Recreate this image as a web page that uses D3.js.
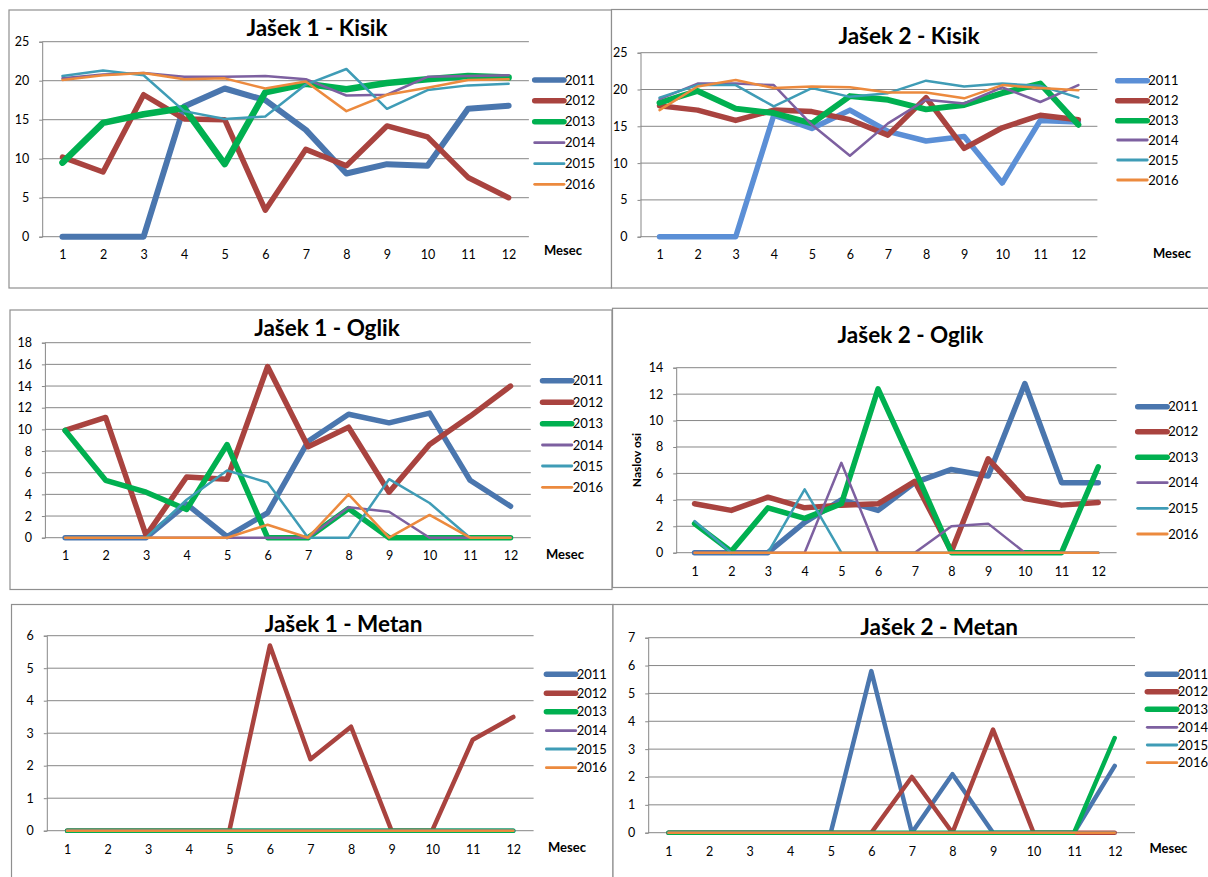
<!DOCTYPE html>
<html>
<head>
<meta charset="utf-8">
<script src="https://cdn.jsdelivr.net/npm/d3@7"></script>
<style>
  html, body { margin: 0; padding: 0; background: #fff; }
  svg { display: block; font-family: Lato, "Open Sans", sans-serif; }
</style>
</head>
<body>
<svg id="chart" width="1208" height="877"></svg>
<script>
// ---------- DATA ----------
const months = [1, 2, 3, 4, 5, 6, 7, 8, 9, 10, 11, 12];
const years = ["2011", "2012", "2013", "2014", "2015", "2016"];

// Jašek 1 - Kisik
const j1Kisik2011 = [0, 0, 0, 16.7, 19.0, 17.5, 13.7, 8.1, 9.3, 9.1, 16.4, 16.8];
const j1Kisik2012 = [10.2, 8.3, 18.2, 15.1, 15.0, 3.4, 11.2, 9.1, 14.2, 12.8, 7.6, 5.0];
const j1Kisik2013 = [9.5, 14.6, 15.7, 16.5, 9.3, 18.5, 19.6, 18.9, 19.7, 20.2, 20.6, 20.4];
const j1Kisik2014 = [20.3, 20.8, 21.0, 20.5, 20.5, 20.6, 20.2, 18.1, 18.2, 20.5, 20.6, 20.7];
const j1Kisik2015 = [20.6, 21.3, 20.7, 16.1, 15.1, 15.4, 19.5, 21.5, 16.4, 18.8, 19.4, 19.6];
const j1Kisik2016 = [20.1, 20.7, 21.0, 20.2, 20.3, 19.0, 19.9, 16.1, 18.2, 19.1, 20.1, 20.2];

// Jašek 2 - Kisik
const j2Kisik2011 = [0, 0, 0, 16.5, 14.7, 17.2, 14.3, 13.0, 13.6, 7.3, 15.8, 15.6];
const j2Kisik2012 = [17.8, 17.2, 15.8, 17.2, 17.0, 15.9, 13.8, 18.9, 12.0, 14.8, 16.5, 15.9];
const j2Kisik2013 = [18.2, 19.8, 17.4, 16.8, 15.4, 19.1, 18.6, 17.3, 17.9, 19.5, 20.8, 15.2];
const j2Kisik2014 = [18.7, 20.8, 20.8, 20.6, 15.2, 11.0, 15.4, 18.6, 18.1, 20.3, 18.3, 20.6];
const j2Kisik2015 = [18.9, 20.6, 20.6, 17.7, 20.2, 19.0, 19.5, 21.2, 20.4, 20.8, 20.5, 18.9];
const j2Kisik2016 = [17.2, 20.4, 21.3, 20.2, 20.4, 20.3, 19.6, 19.6, 18.8, 20.6, 20.2, 19.9];

// Jašek 1 - Oglik
const j1Oglik2011 = [0, 0, 0, 3.1, 0.1, 2.3, 8.9, 11.4, 10.6, 11.5, 5.3, 2.9];
const j1Oglik2012 = [9.9, 11.1, 0.2, 5.6, 5.4, 15.8, 8.4, 10.2, 4.2, 8.6, 11.2, 14.0];
const j1Oglik2013 = [9.9, 5.3, 4.2, 2.6, 8.6, 0, 0, 2.7, 0, 0, 0, 0];
const j1Oglik2014 = [0, 0, 0, 0, 0, 0, 0, 2.8, 2.4, 0, 0, 0];
const j1Oglik2015 = [0, 0, 0, 3.5, 6.2, 5.1, 0, 0, 5.4, 3.2, 0, 0];
const j1Oglik2016 = [0, 0, 0, 0, 0, 1.2, 0, 4.0, 0, 2.1, 0, 0];

// Jašek 2 - Oglik
const j2Oglik2011 = [0, 0, 0, 2.3, 4.0, 3.2, 5.3, 6.3, 5.8, 12.8, 5.3, 5.3];
const j2Oglik2012 = [3.7, 3.2, 4.2, 3.4, 3.6, 3.7, 5.4, 0.1, 7.1, 4.1, 3.6, 3.8];
const j2Oglik2013 = [2.2, 0.1, 3.4, 2.6, 3.7, 12.4, 6.3, 0, 0, 0, 0, 6.5];
const j2Oglik2014 = [0, 0, 0, 0, 6.8, 0, 0, 2.0, 2.2, 0, 0, 0];
const j2Oglik2015 = [2.4, 0, 0, 4.8, 0, 0, 0, 0, 0, 0, 0, 0];
const j2Oglik2016 = [0, 0, 0, 0, 0, 0, 0, 0, 0, 0, 0, 0];

// Jašek 1 - Metan
const j1Metan2011 = [0, 0, 0, 0, 0, 0, 0, 0, 0, 0, 0, 0];
const j1Metan2012 = [0, 0, 0, 0, 0, 5.7, 2.2, 3.2, 0, 0, 2.8, 3.5];
const j1Metan2013 = [0, 0, 0, 0, 0, 0, 0, 0, 0, 0, 0, 0];
const j1Metan2014 = [0, 0, 0, 0, 0, 0, 0, 0, 0, 0, 0, 0];
const j1Metan2015 = [0, 0, 0, 0, 0, 0, 0, 0, 0, 0, 0, 0];
const j1Metan2016 = [0, 0, 0, 0, 0, 0, 0, 0, 0, 0, 0, 0];

// Jašek 2 - Metan
const j2Metan2011 = [0, 0, 0, 0, 0, 5.8, 0, 2.1, 0, 0, 0, 2.4];
const j2Metan2012 = [0, 0, 0, 0, 0, 0, 2.0, 0, 3.7, 0, 0, 0];
const j2Metan2013 = [0, 0, 0, 0, 0, 0, 0, 0, 0, 0, 0, 3.4];
const j2Metan2014 = [0, 0, 0, 0, 0, 0, 0, 0, 0, 0, 0, 0];
const j2Metan2015 = [0, 0, 0, 0, 0, 0, 0, 0, 0, 0, 0, 0];
const j2Metan2016 = [0, 0, 0, 0, 0, 0, 0, 0, 0, 0, 0, 0];

// Tick labels
const kisikTicks = [0, 5, 10, 15, 20, 25];
const oglik1Ticks = [0, 2, 4, 6, 8, 10, 12, 14, 16, 18];
const oglik2Ticks = [0, 2, 4, 6, 8, 10, 12, 14];
const metan1Ticks = [0, 1, 2, 3, 4, 5, 6];
const metan2Ticks = [0, 1, 2, 3, 4, 5, 6, 7];

const titles = ["Jašek 1 - Kisik", "Jašek 2 - Kisik", "Jašek 1 - Oglik", "Jašek 2 - Oglik", "Jašek 1 - Metan", "Jašek 2 - Metan"];
const xAxisTitle = "Mesec";
const yAxisTitle = "Naslov osi";

// ---------- LAYOUT / STYLE ----------
const baseColors = ["#4A76AE", "#A9433F", "#00B050", "#7D60A0", "#3F9CB6", "#EC8A3E"];
const panels = [
  { title: titles[0], series: [j1Kisik2011, j1Kisik2012, j1Kisik2013, j1Kisik2014, j1Kisik2015, j1Kisik2016],
    ticks: kisikTicks, frame: [9, 10, 611.5, 288], plot: [42.2, 41.7, 528.9, 236.7],
    titleXY: [317, 28], legX: [534.7, 564], legY: [80, 100.7, 121.7, 142.7, 163.7, 184.3],
    xLabY: 255, mesec: [563, 250], c0: "#4A76AE", widths: [6, 5.5, 6.5, 2.5, 2.5, 2.5] },
  { title: titles[1], series: [j2Kisik2011, j2Kisik2012, j2Kisik2013, j2Kisik2014, j2Kisik2015, j2Kisik2016],
    ticks: kisikTicks, frame: [611.5, 9.5, 1220, 288], plot: [640.5, 52.7, 1097.4, 236.7],
    titleXY: [909, 36], legX: [1117.7, 1147.3], legY: [80.7, 100.7, 120.7, 140, 160, 180],
    xLabY: 255, mesec: [1172, 253], c0: "#5B8FD6", widths: [5.5, 5.5, 6, 2.5, 2.5, 2.5] },
  { title: titles[2], series: [j1Oglik2011, j1Oglik2012, j1Oglik2013, j1Oglik2014, j1Oglik2015, j1Oglik2016],
    ticks: oglik1Ticks, frame: [10, 310, 612, 589.5], plot: [44.9, 342.7, 530.8, 537.7],
    titleXY: [327, 328.3], legX: [542.5, 571.8], legY: [380.7, 402.3, 423.7, 445, 466, 487.3],
    xLabY: 556, mesec: [565, 554], c0: "#4A76AE", widths: [5.5, 5.5, 5.5, 2.5, 2.5, 2.5] },
  { title: titles[3], series: [j2Oglik2011, j2Oglik2012, j2Oglik2013, j2Oglik2014, j2Oglik2015, j2Oglik2016],
    ticks: oglik2Ticks, frame: [612.5, 308.3, 1220, 587.5], plot: [676.2, 367.7, 1116.6, 552.7],
    titleXY: [910.4, 335], legX: [1137.7, 1167.2], legY: [406.7, 431.7, 457.3, 482.7, 508.3, 534],
    xLabY: 571.7, mesec: null, yTitle: [636.7, 460], c0: "#4A76AE", widths: [5.5, 5.5, 5.5, 2.5, 2.5, 2.5] },
  { title: titles[4], series: [j1Metan2011, j1Metan2012, j1Metan2013, j1Metan2014, j1Metan2015, j1Metan2016],
    ticks: metan1Ticks, frame: [11.5, 604.5, 613, 890], plot: [46.8, 635.7, 533.6, 830.7],
    titleXY: [343.5, 624.3], legX: [546.4, 575.7], legY: [674.3, 693.3, 711.7, 730.7, 749, 767.7],
    xLabY: 850, mesec: [567, 847.7], c0: "#4A76AE", widths: [4.5, 4.5, 4.5, 2.5, 2.5, 2.5] },
  { title: titles[5], series: [j2Metan2011, j2Metan2012, j2Metan2013, j2Metan2014, j2Metan2015, j2Metan2016],
    ticks: metan2Ticks, frame: [613, 604.5, 1220, 890], plot: [648.2, 637.7, 1135, 832.7],
    titleXY: [939.2, 626.7], legX: [1147.3, 1176.8], legY: [674.3, 691.7, 709.3, 727.3, 745, 762.7],
    xLabY: 851.7, mesec: [1168.4, 848.3], c0: "#4A76AE", widths: [4.5, 4.5, 4.5, 2.5, 2.5, 2.5] }
];

const svg = d3.select("#chart");
svg.append("rect").attr("width", 1208).attr("height", 877).attr("fill", "#fff");

panels.forEach(p => {
  const g = svg.append("g");
  const [fx1, fy1, fx2, fy2] = p.frame;
  g.append("rect").attr("x", fx1).attr("y", fy1).attr("width", fx2 - fx1).attr("height", fy2 - fy1)
    .attr("fill", "#fff").attr("stroke", "#8f8f8f").attr("stroke-width", 1.2);

  const [px1, py1, px2, py2] = p.plot;
  const x = d3.scalePoint().domain(months).range([px1, px2]).padding(0.5);
  const y = d3.scaleLinear().domain([0, d3.max(p.ticks)]).range([py2, py1]);

  // gridlines
  g.selectAll(".grid").data(p.ticks).join("line")
    .attr("x1", px1).attr("x2", px2)
    .attr("y1", d => y(d)).attr("y2", d => y(d))
    .attr("stroke", "#878787").attr("stroke-width", 1);

  // y axis
  const yAxis = d3.axisLeft(y).tickValues(p.ticks).tickSize(3).tickPadding(10).tickFormat(d3.format("d"));
  const ya = g.append("g").attr("transform", `translate(${px1},0)`).call(yAxis);
  ya.select(".domain").attr("stroke", "#878787");
  ya.selectAll(".tick line").attr("stroke", "#878787");
  ya.selectAll("text").attr("font-size", 12.5).attr("fill", "#000").attr("font-family", "Lato, sans-serif");

  // x axis
  const xAxis = d3.axisBottom(x).tickSize(0).tickPadding(0);
  const xa = g.append("g").attr("transform", `translate(0,${py2})`).call(xAxis);
  xa.select(".domain").remove();
  xa.selectAll("text").attr("y", p.xLabY - py2).attr("dy", "0.35em")
    .attr("font-size", 12.5).attr("fill", "#000").attr("font-family", "Lato, sans-serif");

  // title
  g.append("text").attr("x", p.titleXY[0]).attr("y", p.titleXY[1]).attr("dy", "0.36em")
    .attr("text-anchor", "middle").attr("font-size", 22.5).attr("font-weight", "bold")
    .attr("fill", "#000").text(p.title);

  if (p.mesec) {
    g.append("text").attr("x", p.mesec[0]).attr("y", p.mesec[1]).attr("dy", "0.35em")
      .attr("text-anchor", "middle").attr("font-size", 13).attr("font-weight", "bold")
      .attr("fill", "#000").text(xAxisTitle);
  }
  if (p.yTitle) {
    g.append("text").attr("transform", `translate(${p.yTitle[0]},${p.yTitle[1]}) rotate(-90)`)
      .attr("dy", "0.35em").attr("text-anchor", "middle").attr("font-size", 12).attr("font-weight", "bold")
      .attr("fill", "#000").text(yAxisTitle);
  }

  const colors = baseColors.slice();
  colors[0] = p.c0;
  const line = d3.line().x((d, i) => x(months[i])).y(d => y(d));

  p.series.forEach((s, k) => {
    g.append("path").datum(s).attr("d", line)
      .attr("fill", "none").attr("stroke", colors[k]).attr("stroke-width", p.widths[k])
      .attr("stroke-linejoin", "round").attr("stroke-linecap", "round");
  });

  // legend
  years.forEach((yr, k) => {
    const ly = p.legY[k];
    g.append("line").attr("x1", p.legX[0]).attr("x2", p.legX[1]).attr("y1", ly).attr("y2", ly)
      .attr("stroke", colors[k]).attr("stroke-width", k < 3 ? 5.5 : 2.8).attr("stroke-linecap", "round");
    g.append("text").attr("x", p.legX[1] + 1).attr("y", ly).attr("dy", "0.36em")
      .attr("font-size", 13).attr("fill", "#000").text(yr);
  });
});
</script>
</body>
</html>
